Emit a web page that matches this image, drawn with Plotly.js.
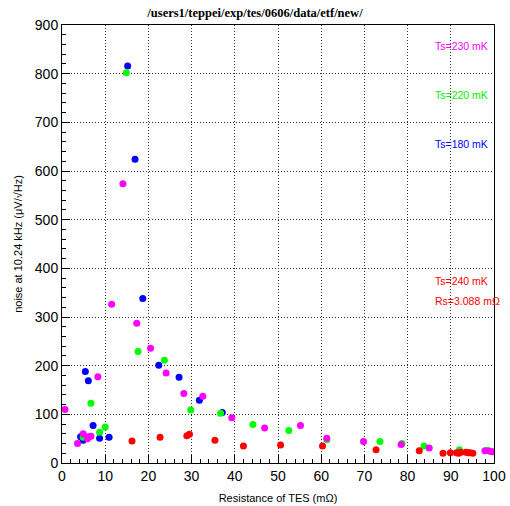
<!DOCTYPE html>
<html>
<head>
<meta charset="utf-8">
<script src="https://cdn.plot.ly/plotly-3.0.1.min.js"></script>
<style>html,body{margin:0;padding:0;background:#fff;}#chart{width:510px;height:506px;}</style>
</head>
<body>
<div id="chart"></div>
<script>
// Ts = 180 mK (blue)
const r180 = [15.2, 16.9, 18.7, 5.4, 6.1, 22.4, 27.1, 31.8, 37.1, 7.2, 4.3, 4.9, 8.7, 10.9];
const n180 = [816, 624, 338, 188, 169, 201, 176, 129, 104, 77, 54, 47, 51, 53];
// Ts = 220 mK (green)
const r220 = [14.9, 17.6, 23.7, 29.8, 36.7, 44.2, 52.5, 61.3, 73.6, 78.7, 83.8, 92.0, 98.5, 6.7, 10.0, 8.7, 4.9];
const n220 = [802, 229, 211, 109, 102, 79, 67, 48, 44, 40, 35, 27, 26, 123, 74, 63, 53];
// Ts = 230 mK (magenta)
const r230 = [14.1, 11.5, 17.3, 20.5, 24.1, 28.2, 32.6, 39.3, 46.9, 55.2, 61.3, 69.8, 78.5, 85.0, 97.9, 99.1, 99.6, 8.3, 0.7, 4.9, 6.1, 6.7, 5.9, 3.6];
const n230 = [574, 326, 287, 236, 185, 143, 137, 93, 72, 77, 51, 44, 38, 31, 25, 24, 23, 177, 110, 60, 54, 55, 50, 40];
// Ts = 240 mK (red)
const r240 = [16.2, 22.7, 28.9, 29.5, 35.4, 42.0, 50.6, 60.3, 72.7, 82.7, 88.2, 89.9, 91.3, 91.8, 92.3, 93.5, 94.0, 94.5, 95.1];
const n240 = [45, 53, 56, 59, 47, 35, 37, 35, 27, 25, 20, 21, 21, 20, 22, 22, 21, 21, 20];

const xTicks = [0, 10, 20, 30, 40, 50, 60, 70, 80, 90, 100];
const yTicks = [0, 100, 200, 300, 400, 500, 600, 700, 800, 900];

const labels = ["Ts=230 mK", "Ts=220 mK", "Ts=180 mK", "Ts=240 mK", "Rs=3.088 mΩ"];
const labelY = [856, 756, 656, 374, 333];
const labelColors = ["#ff00ff", "#00ee00", "#0000ff", "#ff0000", "#ff0000"];

function series(x, y, color) {
  return {x: x, y: y, type: 'scatter', mode: 'markers', cliponaxis: true,
    marker: {color: color, size: 7, line: {width: 0}}, showlegend: false, hoverinfo: 'skip'};
}

const data = [
  series(r180, n180, '#0000ff'),
  series(r220, n220, '#00ff00'),
  series(r230, n230, '#ff00ff'),
  series(r240, n240, '#ff0000')
];

const axisCommon = {
  showline: true, linecolor: '#000', linewidth: 1, mirror: true,
  ticks: 'inside', ticklen: 8, tickwidth: 1, tickcolor: '#000',
  showgrid: true, gridcolor: '#333', griddash: '1px,2px', gridwidth: 1,
  zeroline: false,
  tickfont: {family: 'Liberation Sans, Arial, sans-serif', size: 14, color: '#000'}
};

const layout = {
  width: 510, height: 506,
  margin: {l: 62, r: 16, t: 25, b: 43, pad: 0},
  paper_bgcolor: '#fff', plot_bgcolor: '#fff',
  title: {text: '<b>/users1/teppei/exp/tes/0606/data/etf/new/</b>',
    font: {family: 'Liberation Serif, Times New Roman, serif', size: 12.5, color: '#000'},
    xref: 'container', x: 0.5, xanchor: 'center', yref: 'container', y: 1 - 13/506, yanchor: 'middle'},
  xaxis: Object.assign({}, axisCommon, {
    range: [0, 100], tickmode: 'array', tickvals: xTicks, ticktext: xTicks.map(String),
    minor: {ticks: 'inside', ticklen: 4, dtick: 2, tickcolor: '#000', showgrid: false},
    title: {text: 'Resistance of TES (mΩ)', standoff: 11,
      font: {family: 'Liberation Sans, Arial, sans-serif', size: 11, color: '#000'}}
  }),
  yaxis: Object.assign({}, axisCommon, {
    range: [0, 900], tickmode: 'array', tickvals: yTicks, ticktext: yTicks.map(String),
    minor: {ticks: 'inside', ticklen: 4, dtick: 20, tickcolor: '#000', showgrid: false},
    title: {text: 'noise at 10.24 kHz (μV/√Hz)', standoff: 9,
      font: {family: 'Liberation Sans, Arial, sans-serif', size: 11, color: '#000'}}
  }),
  annotations: labels.map((t, i) => ({
    text: t, x: 85.8, y: labelY[i], xref: 'x', yref: 'y', xanchor: 'left', yanchor: 'middle',
    showarrow: false, font: {family: 'Liberation Sans, Arial, sans-serif', size: 10.5, color: labelColors[i]}
  }))
};

Plotly.newPlot('chart', data, layout, {staticPlot: true, displayModeBar: false});
</script>
</body>
</html>
